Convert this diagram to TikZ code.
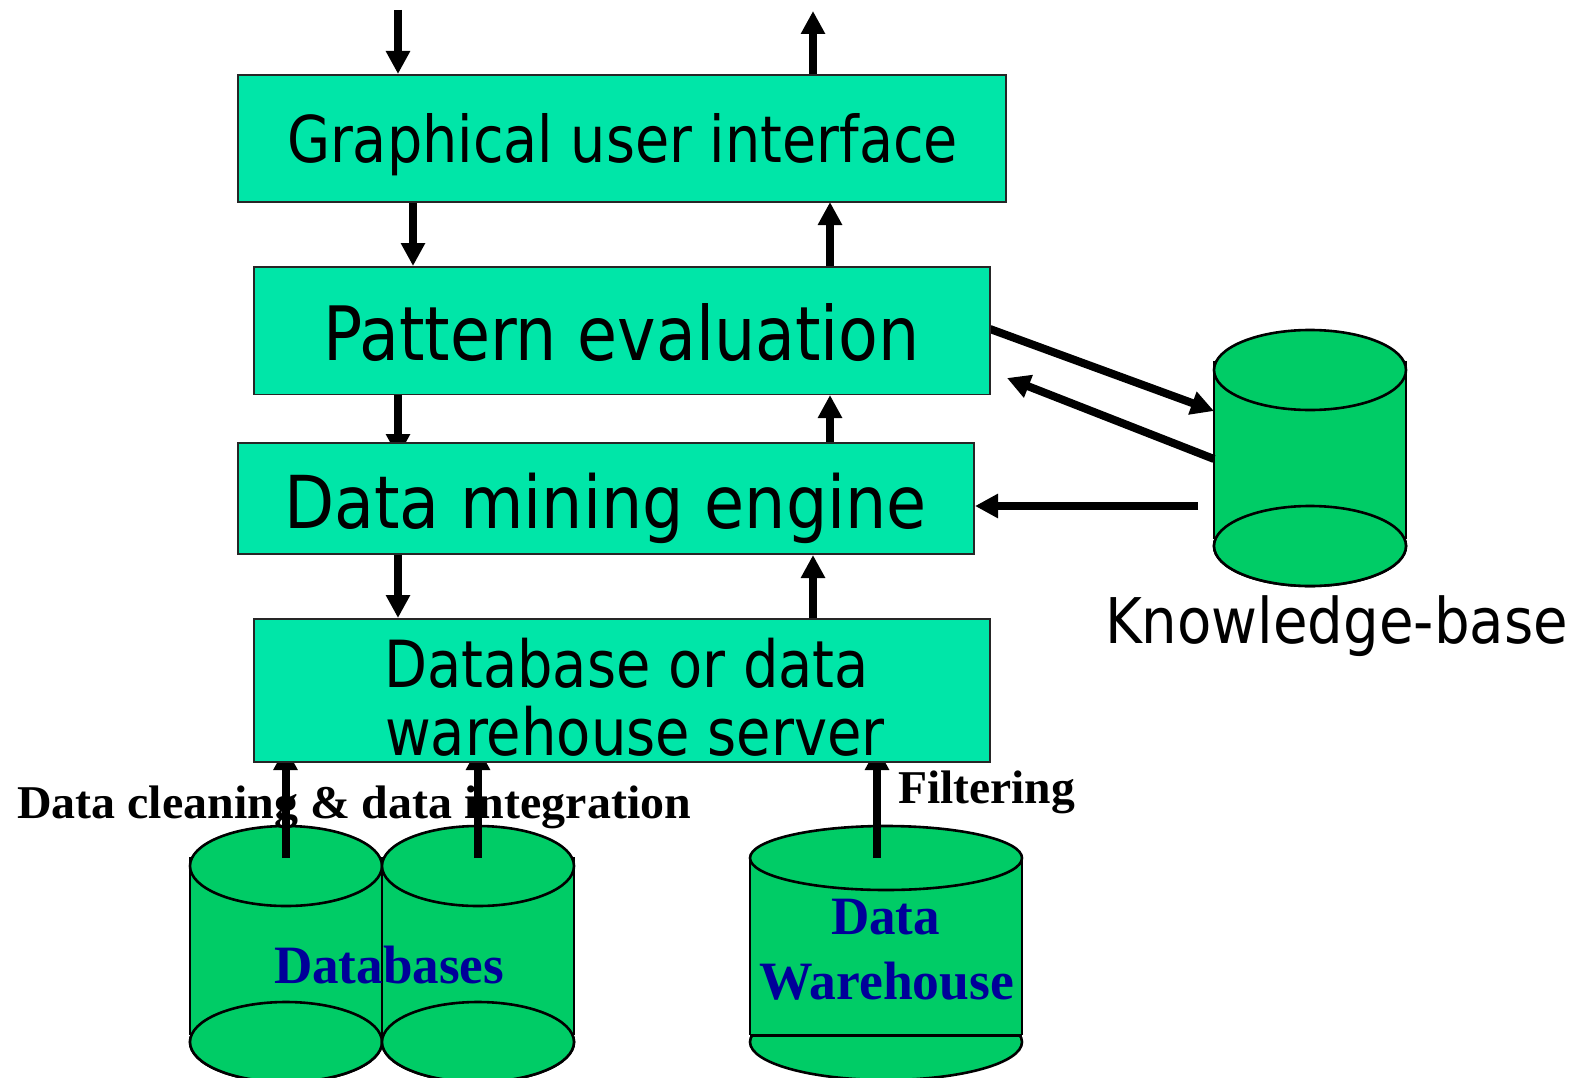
\documentclass[tikz,border=0pt]{standalone}
\usepackage{fontspec}
\setmainfont{DejaVu Sans}
\newfontfamily\serifbold{Liberation Serif}[BoldFont={Liberation Serif Bold}]
\usetikzlibrary{arrows.meta,calc}
\definecolor{boxgreen}{HTML}{00E6A8}
\definecolor{cylgreen}{HTML}{00CC66}
\definecolor{dbblue}{HTML}{000099}
\newsavebox{\fitbox}
\newcommand{\fitw}[2]{\sbox{\fitbox}{#2}\pgfmathsetmacro{\fitr}{#1/(\wd\fitbox/1pt)}\scalebox{\fitr}[1]{\usebox{\fitbox}}}
\tikzset{
  block/.style={draw=black!85,line width=1.6pt,fill=boxgreen,outer sep=0pt,inner sep=0pt},
  flow/.style={line width=8pt,draw=black,-{Triangle[length=23pt,width=23pt]}},
  lbl/.style={anchor=base west,inner sep=0pt,outer sep=0pt,text=black},
  cylside/.style={fill=cylgreen,draw=none,outer sep=0pt,inner sep=0pt},
  cylline/.style={draw=black,line width=2pt},
  cylcap/.style={draw=black,line width=2.6pt,fill=cylgreen}
}
% #1 name, #2 centre x, #3 rx, #4 top-cap centre y, #5 ry, #6 side top, #7 side bottom, #8 bottom-cap centre y
\newcommand{\cylinder}[8]{%
  \path[cylcap] (#2,#8) ellipse [x radius=#3,y radius=#5];
  \node[cylside,minimum width=2*#3 pt,minimum height=(#7-#6)*1pt] (#1) at (#2,{(#6+#7)/2}) {};
  \draw[cylline] (#1.north west) -- (#1.south west) (#1.north east) -- (#1.south east);
  \path[cylcap] (#2,#8) ellipse [x radius=#3,y radius=#5];
  \path[cylcap] (#2,#4) ellipse [x radius=#3,y radius=#5];
}
\begin{document}
\begin{tikzpicture}[x=1pt,y=-1pt]
\useasboundingbox (0,0) rectangle (1584,1078);
\fill[white] (0,0) rectangle (1584,1078);

% cylinders
\cylinder{kb}{1310}{96}{370}{40}{361}{539}{546}
\cylinder{dbone}{286}{96}{866}{40}{857}{1035}{1042}
\cylinder{dbtwo}{478}{96}{866}{40}{857}{1035}{1042}
% data warehouse cylinder: flat line in front of the lower cap
\path[cylcap] (886,1042) ellipse [x radius=136,y radius=38];
\node[cylside,minimum width=272pt,minimum height=177pt] (dw) at (886,946.5) {};
\draw[cylline] (dw.north west) -- (dw.south west) (dw.north east) -- (dw.south east);
\draw[draw=black,line width=3pt] (dw.south west) -- (dw.south east);
\path[cylcap] (886,858) ellipse [x radius=136,y radius=32];

% free ends of the connectors
\coordinate (inTop) at (398,10);
\coordinate (outTop) at (813,11);
\coordinate (guiA) at (413,202);
\coordinate (patA) at (413,266);
\coordinate (guiB) at (830,202);
\coordinate (patB) at (830,266);
\coordinate (patC) at (398,395);
\coordinate (dmC) at (398,457);
\coordinate (patD) at (830,395);
\coordinate (dmD) at (830,442);
\coordinate (dmE) at (398,555);
\coordinate (srvE) at (398,618);
\coordinate (dmF) at (813,555);
\coordinate (srvF) at (813,618);
\coordinate (patOut) at (990,329);
\coordinate (kbIn) at (1214,411);
\coordinate (kbOut) at (1214,459);
\coordinate (patIn) at (1007,378);
\coordinate (kbOutB) at (1198,506);
\coordinate (dmIn) at (975,506);
\coordinate (srvA) at (285.5,747);
\coordinate (srvB) at (478,747);
\coordinate (srvC) at (877,747);
\coordinate (dbAa) at (285.5,858);
\coordinate (dbBb) at (478,858);
\coordinate (dwCc) at (877,858);

% connectors (under the boxes)
\draw[flow] (inTop) -- (inTop |- 0,74);
\draw[flow] (outTop |- 0,74) -- (outTop);
\draw[flow] (guiA) -- (patA);
\draw[flow] (patB) -- (guiB);
\draw[flow] (patC) -- (dmC);
\draw[flow] (dmD) -- (patD);
\draw[flow] (dmE) -- (srvE);
\draw[flow] (srvF) -- (dmF);
\draw[flow] (patOut) -- (kbIn);
\draw[flow] (kbOut) -- (patIn);
\draw[flow] (kbOutB) -- (dmIn);
\draw[flow] (dbAa) -- (srvA);
\draw[flow] (dbBb) -- (srvB);
\draw[flow] (dwCc) -- (srvC);

% boxes
\node[block,minimum width=768pt,minimum height=127pt] (gui) at (622,138.5) {};
\node[block,minimum width=736pt,minimum height=127.5pt] (pat) at (622,330.75) {};
\node[block,minimum width=736pt,minimum height=111pt] (dm) at (606,498.5) {};
\node[block,minimum width=736pt,minimum height=143pt] (srv) at (622,690.5) {};

% labels
\node[lbl] (tgui) at (287,163) {\fitw{671}{\fontsize{64.5}{64.5}\selectfont Graphical user interface}};
\node[lbl] (tpat) at (323,360) {\fitw{597}{\fontsize{75}{75}\selectfont Pattern evaluation}};
\node[lbl] (tdm) at (284,528) {\fitw{643}{\fontsize{73}{73}\selectfont Data mining engine}};
\node[lbl] (tsrva) at (384,687) {\fitw{485}{\fontsize{65}{65}\selectfont Database or data}};
\node[lbl] (tsrvb) at (385,755) {\fitw{500}{\fontsize{65}{65}\selectfont warehouse server}};
\node[lbl] (tkb) at (1105,643) {\fitw{463}{\fontsize{63}{63}\selectfont Knowledge-base}};
\node[lbl] (tclean) at (17,818) {\fitw{674}{\serifbold\bfseries\fontsize{47}{47}\selectfont Data cleaning \& data integration}};
\node[lbl] (tfilt) at (898,803) {\fitw{177}{\serifbold\bfseries\fontsize{47}{47}\selectfont Filtering}};
\node[lbl,text=dbblue] (tdbs) at (274,983) {\fitw{230}{\serifbold\bfseries\fontsize{54}{54}\selectfont Databases}};
\node[lbl,text=dbblue] (tdata) at (831,934) {\fitw{109}{\serifbold\bfseries\fontsize{54}{54}\selectfont Data}};
\node[lbl,text=dbblue] (tware) at (759,999) {\fitw{255}{\serifbold\bfseries\fontsize{54}{54}\selectfont Warehouse}};
\end{tikzpicture}
\end{document}
